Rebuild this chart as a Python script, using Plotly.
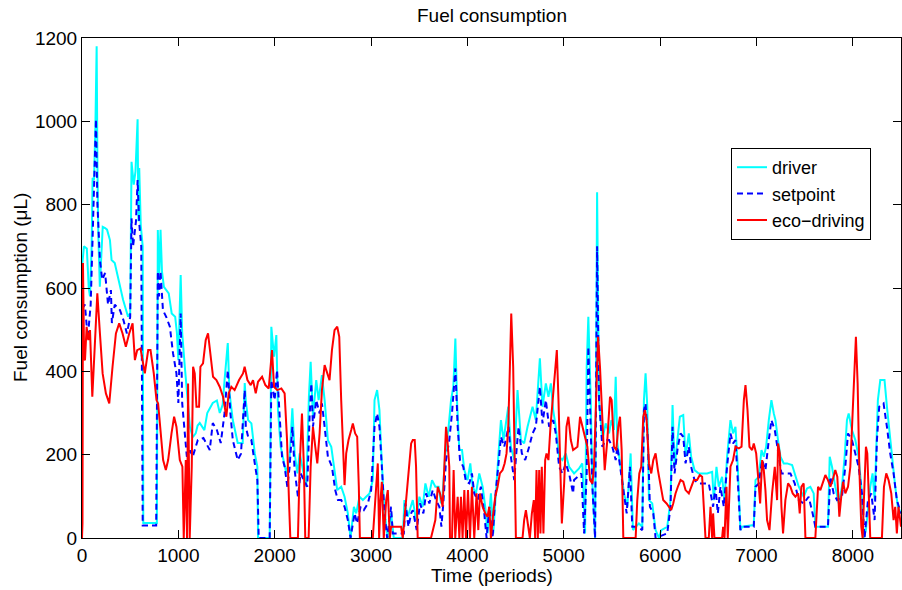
import plotly.graph_objects as go

# ---- data (time in periods, fuel consumption in microlitres) ----
driver_t = [0,20,50,70,83,100,110,125,140,152,160,169,185,215,240,260,290,307,340,394,427,478,500,514,537,555,577,585,594,610,630,636,777,787,800,815,830,850,900,931,967,985,1000,1024,1040,1067,1100,1120,1150,1180,1200,1222,1270,1300,1357,1400,1430,1460,1480,1513,1530,1565,1616,1668,1689,1700,1724,1758,1793,1820,1827,1948,1965,1993,2017,2034,2062,2086,2121,2155,2183,2207,2235,2259,2293,2328,2355,2373,2397,2431,2456,2490,2518,2552,2587,2621,2649,2690,2725,2759,2787,2822,2846,2880,2915,2949,2984,3018,3036,3063,3087,3105,3132,3157,3174,3208,3236,3329,3346,3381,3416,3433,3467,3502,3536,3564,3598,3633,3667,3702,3726,3743,3771,3805,3830,3854,3875,3892,3916,3944,3968,4002,4030,4054,4089,4123,4158,4185,4209,4244,4268,4296,4323,4348,4375,4424,4451,4486,4520,4555,4589,4624,4676,4710,4752,4779,4814,4841,4866,4890,4917,4952,4986,5021,5055,5107,5159,5193,5221,5238,5255,5280,5297,5325,5346,5366,5400,5435,5470,5494,5521,5539,5556,5590,5625,5660,5694,5718,5746,5780,5815,5832,5849,5867,5884,5918,5953,5988,6012,6074,6108,6129,6150,6177,6205,6240,6264,6298,6322,6357,6402,6488,6540,6557,6585,6609,6643,6668,6695,6730,6757,6782,6806,6833,6852,6972,6990,7024,7052,7076,7100,7128,7155,7180,7197,7224,7249,7283,7318,7370,7404,7439,7490,7525,7559,7594,7611,7742,7760,7784,7818,7853,7887,7915,7939,7957,7991,8026,8060,8088,8112,8136,8181,8205,8226,8240,8260,8285,8329,8354,8388,8412,8440,8467,8500]
driver_v = [650,700,695,600,580,700,864,860,1000,1180,900,732,603,747,744,740,715,667,660,600,571,531,540,903,848,880,1005,760,888,750,700,36,36,739,620,740,640,603,587,539,531,492,427,631,491,411,331,267,242,251,270,276,259,300,324,330,300,320,380,468,350,283,228,228,372,330,283,275,203,171,0,0,507,435,487,307,219,195,155,195,311,203,155,203,163,123,339,423,291,379,331,391,331,235,219,155,115,123,99,59,0,75,59,99,91,99,107,139,331,355,307,211,91,27,0,59,0,0,91,51,75,91,43,99,75,131,99,139,123,123,83,107,203,267,331,363,479,331,211,211,163,139,179,123,107,155,123,75,11,107,11,123,203,283,235,315,219,187,355,235,227,267,315,283,431,315,371,339,371,307,267,195,187,203,171,155,167,179,11,411,531,331,131,0,830,331,235,275,251,283,259,387,227,171,107,75,203,19,27,35,27,331,395,315,91,83,19,0,19,27,91,319,171,235,291,295,195,251,195,163,155,155,159,91,171,123,147,91,195,283,251,267,171,19,27,31,139,147,211,195,219,283,331,299,283,235,195,179,179,175,147,123,99,119,123,107,27,27,195,171,123,83,123,195,283,299,259,235,195,123,0,19,123,155,91,219,331,379,379,315,235,187,123,75,59]

setpoint_t = [0,30,60,90,110,130,145,160,186,210,240,270,300,310,340,394,430,466,500,514,530,560,577,594,615,630,770,787,800,815,840,875,912,945,980,1000,1024,1040,1060,1088,1120,1150,1202,1260,1326,1357,1400,1440,1480,1513,1540,1565,1616,1650,1689,1700,1724,1758,1793,1820,1834,1948,1965,1999,2024,2052,2076,2103,2131,2155,2183,2207,2241,2269,2303,2338,2362,2380,2397,2431,2466,2490,2518,2552,2594,2628,2656,2690,2725,2759,2787,2829,2856,2891,2925,2967,3001,3036,3063,3087,3112,3139,3167,3208,3225,3340,3357,3388,3416,3433,3474,3508,3543,3571,3605,3640,3674,3709,3730,3750,3778,3812,3840,3875,3899,3923,3957,3985,4020,4047,4071,4106,4140,4175,4199,4227,4261,4289,4323,4348,4382,4427,4451,4486,4510,4531,4565,4600,4641,4676,4710,4752,4779,4814,4848,4890,4917,4952,4986,5021,5055,5097,5107,5142,5183,5211,5238,5255,5280,5297,5325,5346,5366,5400,5435,5470,5504,5539,5556,5584,5618,5653,5687,5711,5763,5815,5832,5849,5873,5894,5929,5953,6074,6108,6129,6150,6184,6212,6240,6264,6298,6322,6357,6402,6505,6550,6574,6599,6626,6661,6695,6730,6757,6782,6806,6833,6852,6972,6990,7024,7059,7093,7128,7155,7190,7224,7259,7300,7352,7397,7439,7490,7542,7583,7611,7742,7767,7801,7836,7887,7922,7950,7991,8026,8060,8095,8122,8157,8191,8226,8250,8274,8319,8354,8388,8423,8457,8500]
setpoint_v = [550,560,480,560,720,900,1005,800,667,620,636,560,595,516,560,547,523,491,530,767,700,760,859,755,700,30,30,640,580,640,547,530,507,443,395,324,539,323,260,195,210,196,235,240,211,276,259,228,300,403,300,235,187,202,355,267,243,235,179,139,0,0,379,331,403,275,195,171,123,171,267,163,99,155,139,123,291,371,267,331,299,323,267,195,171,115,91,91,75,43,0,59,35,75,67,83,115,267,299,267,171,59,0,75,11,11,83,27,59,67,19,83,59,107,83,115,91,75,27,83,187,235,299,407,267,187,171,135,131,155,107,91,123,59,0,75,0,99,179,243,219,267,195,139,211,267,203,187,219,251,267,363,275,331,267,283,251,171,155,179,155,107,139,147,155,11,155,459,251,123,0,700,331,219,235,235,219,187,219,171,107,59,171,27,27,19,307,323,235,75,59,0,11,75,267,155,219,251,243,179,219,171,139,131,131,75,123,59,123,75,171,251,227,235,139,19,27,27,123,131,187,163,235,283,259,211,155,155,155,131,91,83,99,59,27,27,147,107,91,99,171,251,235,203,171,107,0,91,107,43,235,315,323,267,203,155,91,59]

eco_t = [0,5,10,16,22,31,48,65,83,107,130,159,186,214,248,283,317,352,386,421,455,490,525,549,573,607,628,652,687,711,745,773,790,815,842,870,894,929,956,980,1015,1042,1056,1077,1090,1101,1118,1139,1153,1170,1188,1215,1229,1256,1284,1308,1332,1360,1395,1429,1464,1498,1522,1550,1584,1630,1671,1688,1717,1751,1775,1803,1827,1869,1903,1938,1972,1993,2027,2069,2103,2128,2148,2162,2241,2259,2283,2303,2317,2352,2373,2397,2421,2442,2466,2490,2518,2545,2569,2594,2621,2649,2670,2690,2711,2725,2742,2766,2794,2811,2835,2856,2873,2884,3018,3036,3053,3070,3084,3098,3112,3132,3157,3174,3195,3208,3312,3329,3364,3388,3416,3433,3453,3467,3484,3622,3647,3667,3692,3716,3743,3761,3778,3795,3812,3819,3840,3857,3874,3899,3916,3933,3950,3968,3985,4006,4027,4047,4071,4095,4113,4130,4158,4185,4209,4227,4244,4268,4289,4313,4337,4365,4386,4406,4424,4441,4455,4475,4489,4503,4572,4589,4607,4627,4648,4669,4689,4703,4717,4731,4745,4758,4772,4789,4807,4821,4841,4862,4883,4903,4928,4945,4962,4980,5004,5028,5048,5073,5097,5142,5169,5193,5221,5245,5273,5297,5314,5335,5356,5376,5400,5425,5452,5480,5497,5521,5545,5566,5584,5601,5618,5746,5763,5784,5804,5825,5842,5860,5884,5908,5929,5953,5977,6005,6032,6067,6091,6115,6136,6160,6184,6212,6240,6264,6298,6322,6350,6384,6412,6436,6453,6471,6505,6523,6540,6550,6564,6643,6654,6668,6689,6702,6730,6757,6782,6817,6845,6869,6886,6907,6927,6955,6972,6997,7017,7038,7059,7076,7093,7110,7135,7162,7190,7214,7224,7242,7259,7276,7300,7328,7352,7376,7404,7432,7449,7466,7490,7508,7611,7639,7663,7687,7715,7742,7767,7791,7818,7839,7860,7880,7898,7922,7950,7974,7998,8019,8032,8050,8067,8088,8102,8115,8136,8150,8164,8181,8302,8323,8347,8371,8399,8423,8440,8457,8474,8500]
eco_v = [0,35,660,560,430,427,507,475,499,339,443,587,491,395,347,323,411,491,515,491,459,491,515,427,451,455,427,395,451,451,395,331,323,251,187,163,187,251,291,267,187,171,0,187,0,371,0,171,411,395,315,315,411,419,475,491,443,387,379,363,339,291,347,363,355,379,395,411,379,367,379,347,375,387,367,359,451,363,355,359,347,235,91,0,0,171,299,171,0,0,171,267,219,179,251,355,415,395,379,451,499,507,483,331,187,127,203,235,259,275,251,243,123,0,0,75,123,179,0,91,135,0,91,115,0,27,27,0,91,171,227,235,235,171,0,0,27,43,123,107,75,171,267,227,171,0,0,163,0,99,0,99,0,115,0,115,0,123,0,107,19,107,75,59,51,75,0,59,99,123,155,163,179,203,267,411,539,411,171,0,0,43,67,27,0,59,91,0,163,0,163,11,171,11,187,203,187,267,331,395,451,331,171,35,131,267,291,235,211,219,291,267,235,219,139,131,171,331,483,411,267,163,235,339,331,219,211,267,291,211,0,0,91,155,171,291,307,283,179,155,187,203,163,123,91,83,75,67,83,107,123,139,135,115,107,123,139,139,151,147,83,0,0,75,0,59,0,0,27,0,123,0,171,187,219,215,219,331,367,307,219,211,227,203,147,83,187,163,115,43,19,107,171,91,227,203,75,11,91,131,123,107,99,107,59,123,131,0,0,123,115,131,151,139,123,139,163,147,51,99,135,107,123,171,291,427,483,371,171,27,0,91,219,203,91,0,0,123,155,139,107,43,75,11,75,27]

x_ticks = [0, 1000, 2000, 3000, 4000, 5000, 6000, 7000, 8000]
y_ticks = [0, 200, 400, 600, 800, 1000, 1200]

FONT = "Liberation Sans, Arial, Helvetica, sans-serif"

fig = go.Figure()
fig.add_trace(go.Scatter(x=driver_t, y=driver_v, mode="lines", name="driver",
                         line=dict(color="#00FFFF", width=2)))
fig.add_trace(go.Scatter(x=setpoint_t, y=setpoint_v, mode="lines", name="setpoint",
                         line=dict(color="#0000FF", width=2, dash="6px,4px")))
fig.add_trace(go.Scatter(x=eco_t, y=eco_v, mode="lines", name="eco\u2212driving",
                         line=dict(color="#FF0000", width=2)))

axis_common = dict(showline=True, linecolor="black", linewidth=1, mirror="allticks",
                   ticks="inside", ticklen=8, tickwidth=1, tickcolor="black",
                   showgrid=False, zeroline=False,
                   tickfont=dict(family=FONT, size=19, color="black"))

fig.update_xaxes(range=[0, 8500], tickvals=x_ticks, **axis_common)
fig.update_yaxes(range=[0, 1200], tickvals=y_ticks, **axis_common)

W, H = 902, 590
L, R, T, B = 82, 1, 38, 52
fig.update_layout(
    width=W, height=H,
    margin=dict(l=L, r=R, t=T, b=B, pad=0),
    paper_bgcolor="white", plot_bgcolor="white",
    font=dict(family=FONT, size=19, color="black"),
    showlegend=True,
    legend=dict(x=(731 - L) / (W - L - R), y=(538 - 148) / (H - T - B),
                xanchor="left", yanchor="top",
                bordercolor="black", borderwidth=1, bgcolor="white",
                font=dict(family=FONT, size=18, color="black"),
                tracegroupgap=0, itemwidth=30),
    annotations=[
        dict(text="Fuel consumption", xref="paper", yref="paper",
             x=0.5, y=1 + (T - 16) / (H - T - B), xanchor="center", yanchor="middle",
             showarrow=False, font=dict(family=FONT, size=19, color="black")),
        dict(text="Time (periods)", xref="paper", yref="paper",
             x=0.5, y=-(575 - 538) / (H - T - B), xanchor="center", yanchor="middle",
             showarrow=False, font=dict(family=FONT, size=19, color="black")),
        dict(text="Fuel consumption (\u03bcL)", xref="paper", yref="paper",
             x=(20 - L) / (W - L - R), y=0.5, xanchor="center", yanchor="middle",
             textangle=-90, showarrow=False,
             font=dict(family=FONT, size=19, color="black")),
    ],
)

fig.write_html("out.html")
